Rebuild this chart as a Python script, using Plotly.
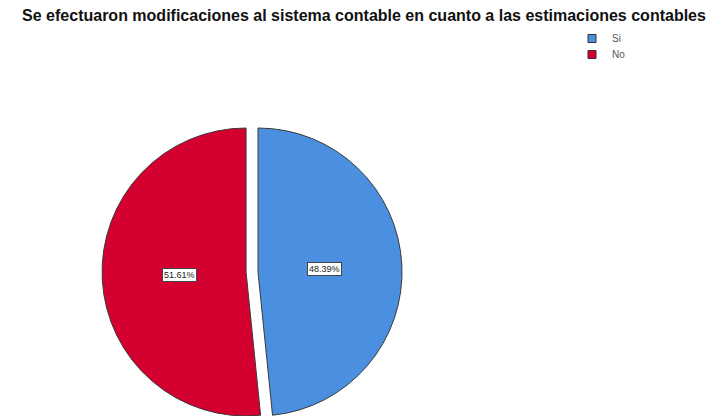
import math
import plotly.graph_objects as go

# ---- data ----
categories = ["Si", "No"]
percentages = [48.39, 51.61]
colors = ["#4A8FE0", "#D4002F"]
title_text = "Se efectuaron modificaciones al sistema contable en cuanto a las estimaciones contables"

W, H = 727, 416
OFF = 8  # page body margin: figure is drawn 8px right/down of the page origin

# geometry of the pie (page pixels)
cx, cy, r = 258 - OFF, 272 - OFF, 144
pull_red = 0.083          # "No" slice exploded to the left
label_frac = 0.46

def px_domain(x0, x1, y0, y1):
    return dict(x=[max(0, x0 / W), min(1, x1 / W)],
                y=[max(0, 1 - y1 / H), min(1, 1 - y0 / H)])

fig = go.Figure()

total = sum(percentages)
mids = []
acc = 0.0
for v in percentages:
    mids.append((acc + v / 2) / total * 360)
    acc += v

offsets = [0.0, pull_red]
for i, cat in enumerate(categories):
    off = offsets[i] * r
    ang = math.radians(mids[i])
    ccx = cx + off * math.sin(ang)
    slice_colors = [c if j == i else "rgba(0,0,0,0)" for j, c in enumerate(colors)]
    line_w = [1 if j == i else 0 for j in range(len(colors))]
    fig.add_trace(go.Pie(
        labels=categories, values=percentages, sort=False,
        direction="clockwise", rotation=0,
        marker=dict(colors=slice_colors, line=dict(color="#3A3A3A", width=line_w)),
        textinfo="none", hoverinfo="label+percent", showlegend=False,
        domain=px_domain(ccx - r, ccx + r, cy - r, cy + r),
    ))
    lx = ccx + label_frac * r * math.sin(ang)
    ly = cy - label_frac * r * math.cos(ang)
    fig.add_annotation(
        x=lx / W, y=1 - ly / H, xref="paper", yref="paper",
        xanchor="center", yanchor="middle",
        text=f"{percentages[i]:.2f}%", showarrow=False,
        font=dict(family="Liberation Sans, Arial", size=9, color="#222"),
        bgcolor="white", bordercolor="#444", borderwidth=1, borderpad=1,
    )

# legend entries (one legend box per category, stacked)
legend_names = ["legend", "legend2"]
legend_tops = [24 - OFF, 40 - OFF]
leg_font = dict(family="Liberation Sans, Arial", size=10, color="#555")
for cat, col, lg in zip(categories, colors, legend_names):
    fig.add_trace(go.Scatter(
        x=[None], y=[None], mode="markers", name=cat, legend=lg,
        marker=dict(symbol="square", size=8, color=col, line=dict(color="#333", width=1)),
    ))

legend_left = 572 - OFF
fig.update_layout(
    width=W, height=H,
    margin=dict(l=0, r=0, t=0, b=0),
    paper_bgcolor="white", plot_bgcolor="white",
    title=dict(text="<b>" + title_text + "</b>", x=(364 - OFF) / W, xanchor="center",
               y=1 - (15 - OFF) / H, yanchor="middle",
               font=dict(family="Liberation Sans, Arial", size=16, color="#111")),
    xaxis=dict(visible=False), yaxis=dict(visible=False),
    legend=dict(x=legend_left / W, y=1 - legend_tops[0] / H, xanchor="left", yanchor="top",
                font=leg_font, bgcolor="rgba(0,0,0,0)"),
    legend2=dict(x=legend_left / W, y=1 - legend_tops[1] / H, xanchor="left", yanchor="top",
                 font=leg_font, bgcolor="rgba(0,0,0,0)"),
)

fig.write_html("out.html")
